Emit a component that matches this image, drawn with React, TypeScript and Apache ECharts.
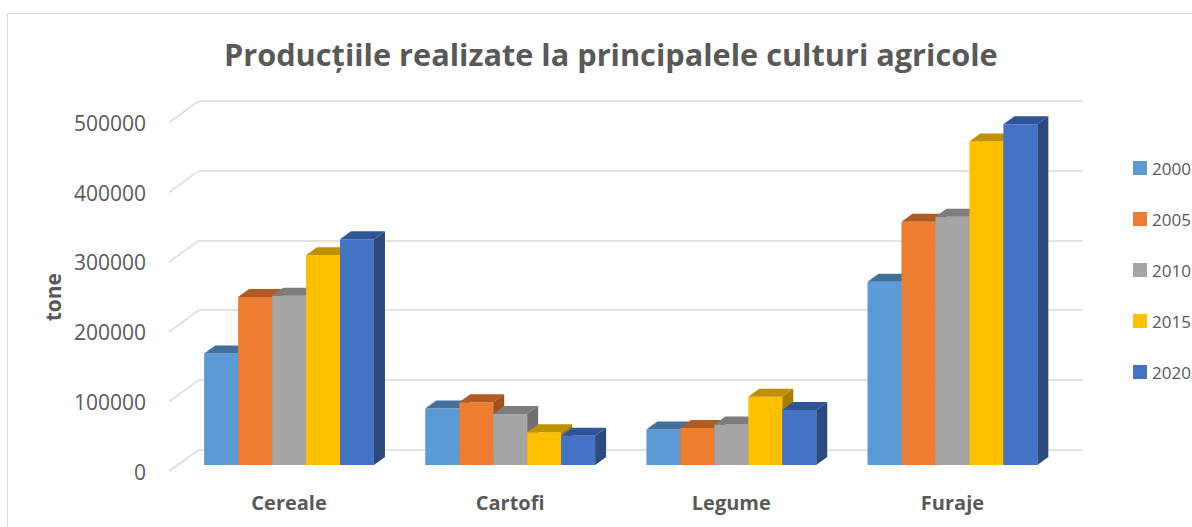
import React, { useEffect, useRef } from "react";
import * as echarts from "echarts";

const categories = ["Cereale", "Cartofi", "Legume", "Furaje"];
const years = ["2000", "2005", "2010", "2015", "2020"];
const v2000 = [160000, 81000, 51000, 263000];
const v2005 = [241000, 90000, 53000, 349000];
const v2010 = [243000, 73000, 58000, 356000];
const v2015 = [301000, 47000, 98000, 464000];
const v2020 = [324000, 42000, 79000, 489000];
const seriesValues = [v2000, v2005, v2010, v2015, v2020];
const yTicks = [0, 100000, 200000, 300000, 400000, 500000];

const frontColors = ["#5B9BD5", "#ED7D31", "#A5A5A5", "#FFC000", "#4472C4"];
const topColors = ["#41719C", "#B05B22", "#7D7D7D", "#BF9000", "#2F5597"];
const sideColors = ["#3A6590", "#A0531F", "#707070", "#A87E00", "#2C4A80"];

const FONT = "'Open Sans', 'Liberation Sans', sans-serif";
const TXT = "#595959";
const GRID_C = "#d9d9d9";
const DX = 11;
const DY = -8;
const GROUP_FRAC = 0.768;

export default function App() {
  const ref = useRef<HTMLDivElement>(null);
  useEffect(() => {
    if (!ref.current) return;
    const chart = echarts.init(ref.current, undefined, { renderer: "svg" });

    const barSeries = years.map((yr, si) => ({
      type: "custom",
      name: yr,
      xAxisIndex: 1,
      yAxisIndex: 1,
      itemStyle: { color: frontColors[si] },
      data: seriesValues[si].map((v, ci) => [ci, v]),
      renderItem: (params: any, api: any) => {
        const ci = api.value(0);
        const val = api.value(1);
        const base = api.coord([ci, 0]);
        const top = api.coord([ci, val]);
        const catW = api.size([1, 0])[0];
        const groupW = catW * GROUP_FRAC;
        const bw = groupW / years.length;
        const x0 = base[0] - groupW / 2 + si * bw;
        const x1 = x0 + bw;
        const ty = top[1];
        const by = base[1];
        return {
          type: "group",
          children: [
            {
              type: "rect",
              shape: { x: x0, y: ty, width: bw, height: by - ty },
              style: { fill: frontColors[si] },
            },
            {
              type: "polygon",
              shape: {
                points: [
                  [x0, ty],
                  [x0 + DX, ty + DY],
                  [x1 + DX, ty + DY],
                  [x1, ty],
                ],
              },
              style: { fill: topColors[si] },
            },
            {
              type: "polygon",
              shape: {
                points: [
                  [x1, ty],
                  [x1 + DX, ty + DY],
                  [x1 + DX, by + DY],
                  [x1, by],
                ],
              },
              style: { fill: sideColors[si] },
            },
          ],
        };
      },
    }));

    const option: any = {
      animation: false,
      backgroundColor: "#ffffff",
      title: {
        text: "Producțiile realizate la principalele culturi agricole",
        left: 219,
        top: 33,
        textStyle: { fontFamily: FONT, fontWeight: "bold", fontSize: 30.7, color: TXT },
      },
      graphic: [
        {
          type: "rect",
          shape: { x: 7.5, y: 13.5, width: 1400, height: 700 },
          style: { fill: "none", stroke: "#d9d9d9", lineWidth: 1 },
          silent: true,
          z: -10,
        },
      ],
      legend: {
        orient: "vertical",
        left: 1128,
        top: 153,
        itemWidth: 14,
        itemHeight: 14,
        itemGap: 31,
        icon: "rect",
        data: years,
        textStyle: { fontFamily: FONT, fontSize: 17, color: TXT, lineHeight: 20 },
      },
      grid: [
        { left: 169, width: 884, top: 122.7, height: 349 },
        { left: 178.5, width: 884.5, top: 116.5, height: 348.5 },
        { left: 199, width: 884, top: 101, height: 348.7 },
      ],
      xAxis: [
        { gridIndex: 0, type: "value", min: 0, max: 1, show: false },
        {
          gridIndex: 1,
          type: "category",
          data: categories,
          axisLine: { show: false },
          axisTick: { show: false },
          axisLabel: {
            margin: 27,
            fontFamily: FONT,
            fontWeight: "bold",
            fontSize: 20,
            color: TXT,
          },
        },
        { gridIndex: 2, type: "value", min: 0, max: 1, show: false },
      ],
      yAxis: [
        {
          gridIndex: 0,
          type: "value",
          min: 0,
          max: 500000,
          interval: 100000,
          name: "tone",
          nameLocation: "middle",
          nameRotate: 90,
          nameGap: 99,
          nameTextStyle: { fontFamily: FONT, fontWeight: "bold", fontSize: 21, color: TXT },
          axisLine: { show: false },
          axisTick: { show: false },
          splitLine: { show: false },
          axisLabel: {
            margin: 23,
            fontFamily: FONT,
            fontSize: 21,
            color: TXT,
            formatter: (v: number) => String(v),
          },
        },
        {
          gridIndex: 1,
          type: "value",
          min: 0,
          max: 500000,
          interval: 100000,
          show: false,
          splitLine: { show: false },
        },
        {
          gridIndex: 2,
          type: "value",
          min: 0,
          max: 500000,
          interval: 100000,
          axisLine: { show: false },
          axisTick: { show: false },
          axisLabel: { show: false },
          splitLine: { show: true, lineStyle: { color: GRID_C, width: 1.5 } },
        },
      ],
      series: [
        {
          type: "custom",
          name: "walllines",
          xAxisIndex: 2,
          yAxisIndex: 2,
          silent: true,
          data: yTicks.map((t) => [0, t]),
          renderItem: (params: any, api: any) => {
            const p = api.coord([0, api.value(1)]);
            return {
              type: "line",
              shape: { x1: p[0], y1: p[1], x2: p[0] - 30, y2: p[1] + 21.7 },
              style: { stroke: GRID_C, lineWidth: 1.5 },
            };
          },
        },
        ...barSeries,
      ],
    };
    chart.setOption(option);
    return () => chart.dispose();
  }, []);

  return (
    <div style={{ position: "fixed", left: 0, top: 0, width: 1192, height: 527, overflow: "hidden", background: "#fff" }}>
      <div ref={ref} style={{ width: 1300, height: 527 }} />
    </div>
  );
}
